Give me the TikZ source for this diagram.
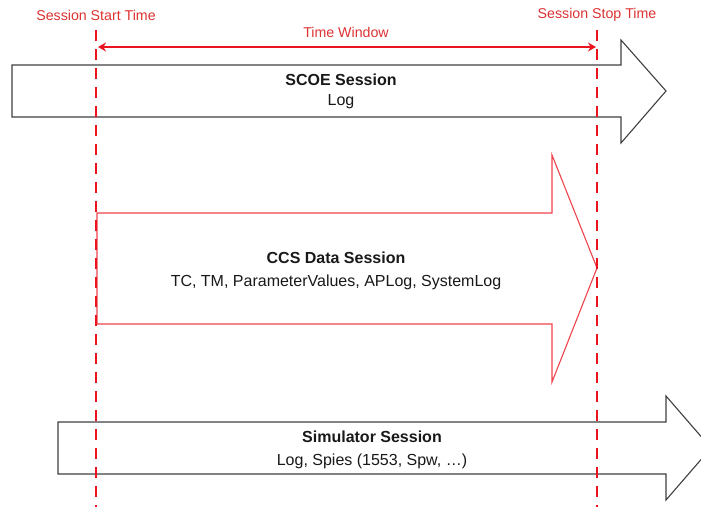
\documentclass[tikz,border=0pt]{standalone}
\usepackage{fontspec}
\setmainfont{Liberation Sans}
\usetikzlibrary{arrows.meta}
\definecolor{lblred}{RGB}{220,50,50}
\definecolor{linered}{RGB}{235,20,30}
\definecolor{txt}{RGB}{25,25,25}
\begin{document}
\begin{tikzpicture}[x=1pt,y=-1pt,
  bigarrow/.style={draw=black!75, line width=1.1pt, fill=white},
  redarrow/.style={draw=linered!80, line width=1.1pt, fill=white},
  limit/.style={draw=linered, line width=2.8pt, dash pattern=on 11pt off 8pt},
  lbl/.style={text=lblred, font=\fontsize{14.2}{16}\selectfont, inner sep=0pt},
  ttl/.style={text=txt, font=\fontsize{16}{18}\selectfont\bfseries, inner sep=0pt},
  sub/.style={text=txt, font=\fontsize{16}{18}\selectfont, inner sep=0pt}]
\useasboundingbox (0,0) rectangle (701,506);
\clip (0,0) rectangle (701,506);
% SCOE arrow
\draw[bigarrow] (12,65) -- (621,65) -- (621,40) -- (666,91) -- (621,143) -- (621,117) -- (12,117) -- cycle;
% CCS arrow
\draw[redarrow] (97,213) -- (552,213) -- (552,155) -- (597,268) -- (552,382) -- (552,324) -- (97,324) -- cycle;
% Simulator arrow
\draw[bigarrow] (58,422) -- (666,422) -- (666,396) -- (711,448) -- (666,500) -- (666,474) -- (58,474) -- cycle;
% limits
\coordinate (s1) at (96,30);
\coordinate (s2) at (96,510);
\coordinate (e1) at (597,30);
\coordinate (e2) at (597,510);
\draw[limit] (s1) -- (s2);
\draw[limit] (e1) -- (e2);
\coordinate (w1) at (98,47);
\coordinate (w2) at (596,47);
\draw[linered, line width=2.6pt, {Stealth[length=8pt,width=9pt]}-{Stealth[length=8pt,width=9pt]}] (w1) -- (w2);
% labels
\node[lbl] (start) at (96,15) {Session Start Time};
\node[lbl] (stop) at (597,15) {Session Stop Time};
\node[lbl] (win) at (346,32) {Time Window};
\node[ttl] (scoe) at (341,80) {SCOE Session};
\node[sub] (scoel) at (341,102) {Log};
\node[ttl] (ccs) at (336,258) {CCS Data Session};
\node[sub] (ccsl) at (336,282) {TC, TM, ParameterValues, APLog, SystemLog};
\node[ttl] (sim) at (372,437) {Simulator Session};
\node[sub] (siml) at (372,461) {Log, Spies (1553, Spw, \ldots)};
\end{tikzpicture}
\end{document}
